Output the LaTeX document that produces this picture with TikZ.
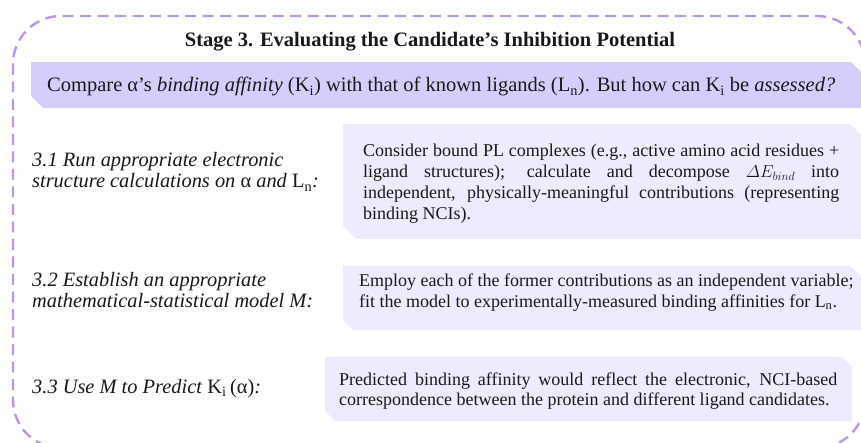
\documentclass[tikz,border=0pt]{standalone}
\usepackage{fontspec}
\setmainfont{Liberation Serif}
\definecolor{borderc}{RGB}{183,150,248}
\definecolor{bannerc}{RGB}{212,206,251}
\definecolor{boxc}{RGB}{237,235,253}
\definecolor{txt}{RGB}{25,25,25}
\tikzset{
  border/.style={draw=borderc, line width=2.4pt, dash pattern=on 11pt off 6.5pt, rounded corners=48pt},
  banner/.style={fill=bannerc},
  stepbox/.style={fill=boxc},
  titletext/.style={font=\fontsize{20.5}{23}\selectfont\bfseries, text=txt, inner sep=0pt},
  bannertext/.style={font=\fontsize{20.5}{23}\selectfont, text=txt, inner sep=0pt},
  labeltext/.style={font=\fontsize{20.4}{21}\selectfont, text=txt, inner sep=0pt, align=left},
  boxtext/.style={font=\fontsize{18}{20.7}\selectfont, text=txt, inner sep=0pt},
}
\begin{document}
\begin{tikzpicture}[x=1pt,y=1pt]
\useasboundingbox (0,0) rectangle (861,-443);
% dashed frame
\draw[border] (13,-16) rectangle (865,-448);
% banner
\fill[banner] (31,-62) -- (851,-62) -- (863,-74) -- (863,-108) -- (43,-108) -- (31,-96) -- cycle;
% step boxes
\fill[stepbox] (343,-124) -- (850,-124) -- (863,-137) -- (863,-239) -- (356,-239) -- (343,-226) -- cycle;
\fill[stepbox] (343,-266) -- (850,-266) -- (863,-279) -- (863,-330) -- (353,-330) -- (343,-320) -- cycle;
\fill[stepbox] (325,-357) -- (842,-357) -- (852,-367) -- (852,-421) -- (335,-421) -- (325,-411) -- cycle;
% title and banner text
\node[titletext, anchor=base] (title) at (430,-47) {Stage 3. Evaluating the Candidate’s Inhibition Potential};
\node[bannertext, anchor=base west] (banner) at (47,-92) {Compare α’s \textit{binding affinity} (K\textsubscript{i}) with that of known ligands (L\textsubscript{n}). But how can K\textsubscript{i} be \textit{assessed?}};
% step labels (base = last line)
\node[labeltext, anchor=base west] (l31) at (32,-188) {\textit{3.1 Run appropriate electronic}\\\textit{structure calculations on} α \textit{and} L\textsubscript{n}\textit{:}};
\node[labeltext, anchor=base west] (l32) at (32,-308) {\textit{3.2 Establish an appropriate}\\\textit{mathematical-statistical model M:}};
\node[labeltext, anchor=base west] (l33) at (32,-393) {\textit{3.3 Use M to Predict} K\textsubscript{i}\,(α)\textit{:}};
% box texts (text width nodes: base = first line)
\node[boxtext, anchor=base west, text width=476pt, align=justify] (t31) at (363,-157) {\tolerance=10000\hyphenpenalty=10000\exhyphenpenalty=10000
Consider bound PL complexes (e.g., active amino acid residues +\linebreak ligand structures); calculate and decompose $\mathnormal{\Delta}E_{bind}$ into\linebreak independent, physically-meaningful contributions (representing\linebreak binding NCIs).};
\node[boxtext, anchor=base west, align=left] (t32) at (359,-307) {Employ each of the former contributions as an independent variable;\\fit the model to experimentally-measured binding affinities for L\textsubscript{n}.};
\node[boxtext, anchor=base west, text width=498pt, align=justify] (t33) at (339,-385) {\tolerance=10000\hyphenpenalty=10000\exhyphenpenalty=10000
Predicted binding affinity would reflect the electronic, NCI-based\linebreak correspondence between the protein and different ligand candidates.};
\end{tikzpicture}
\end{document}
